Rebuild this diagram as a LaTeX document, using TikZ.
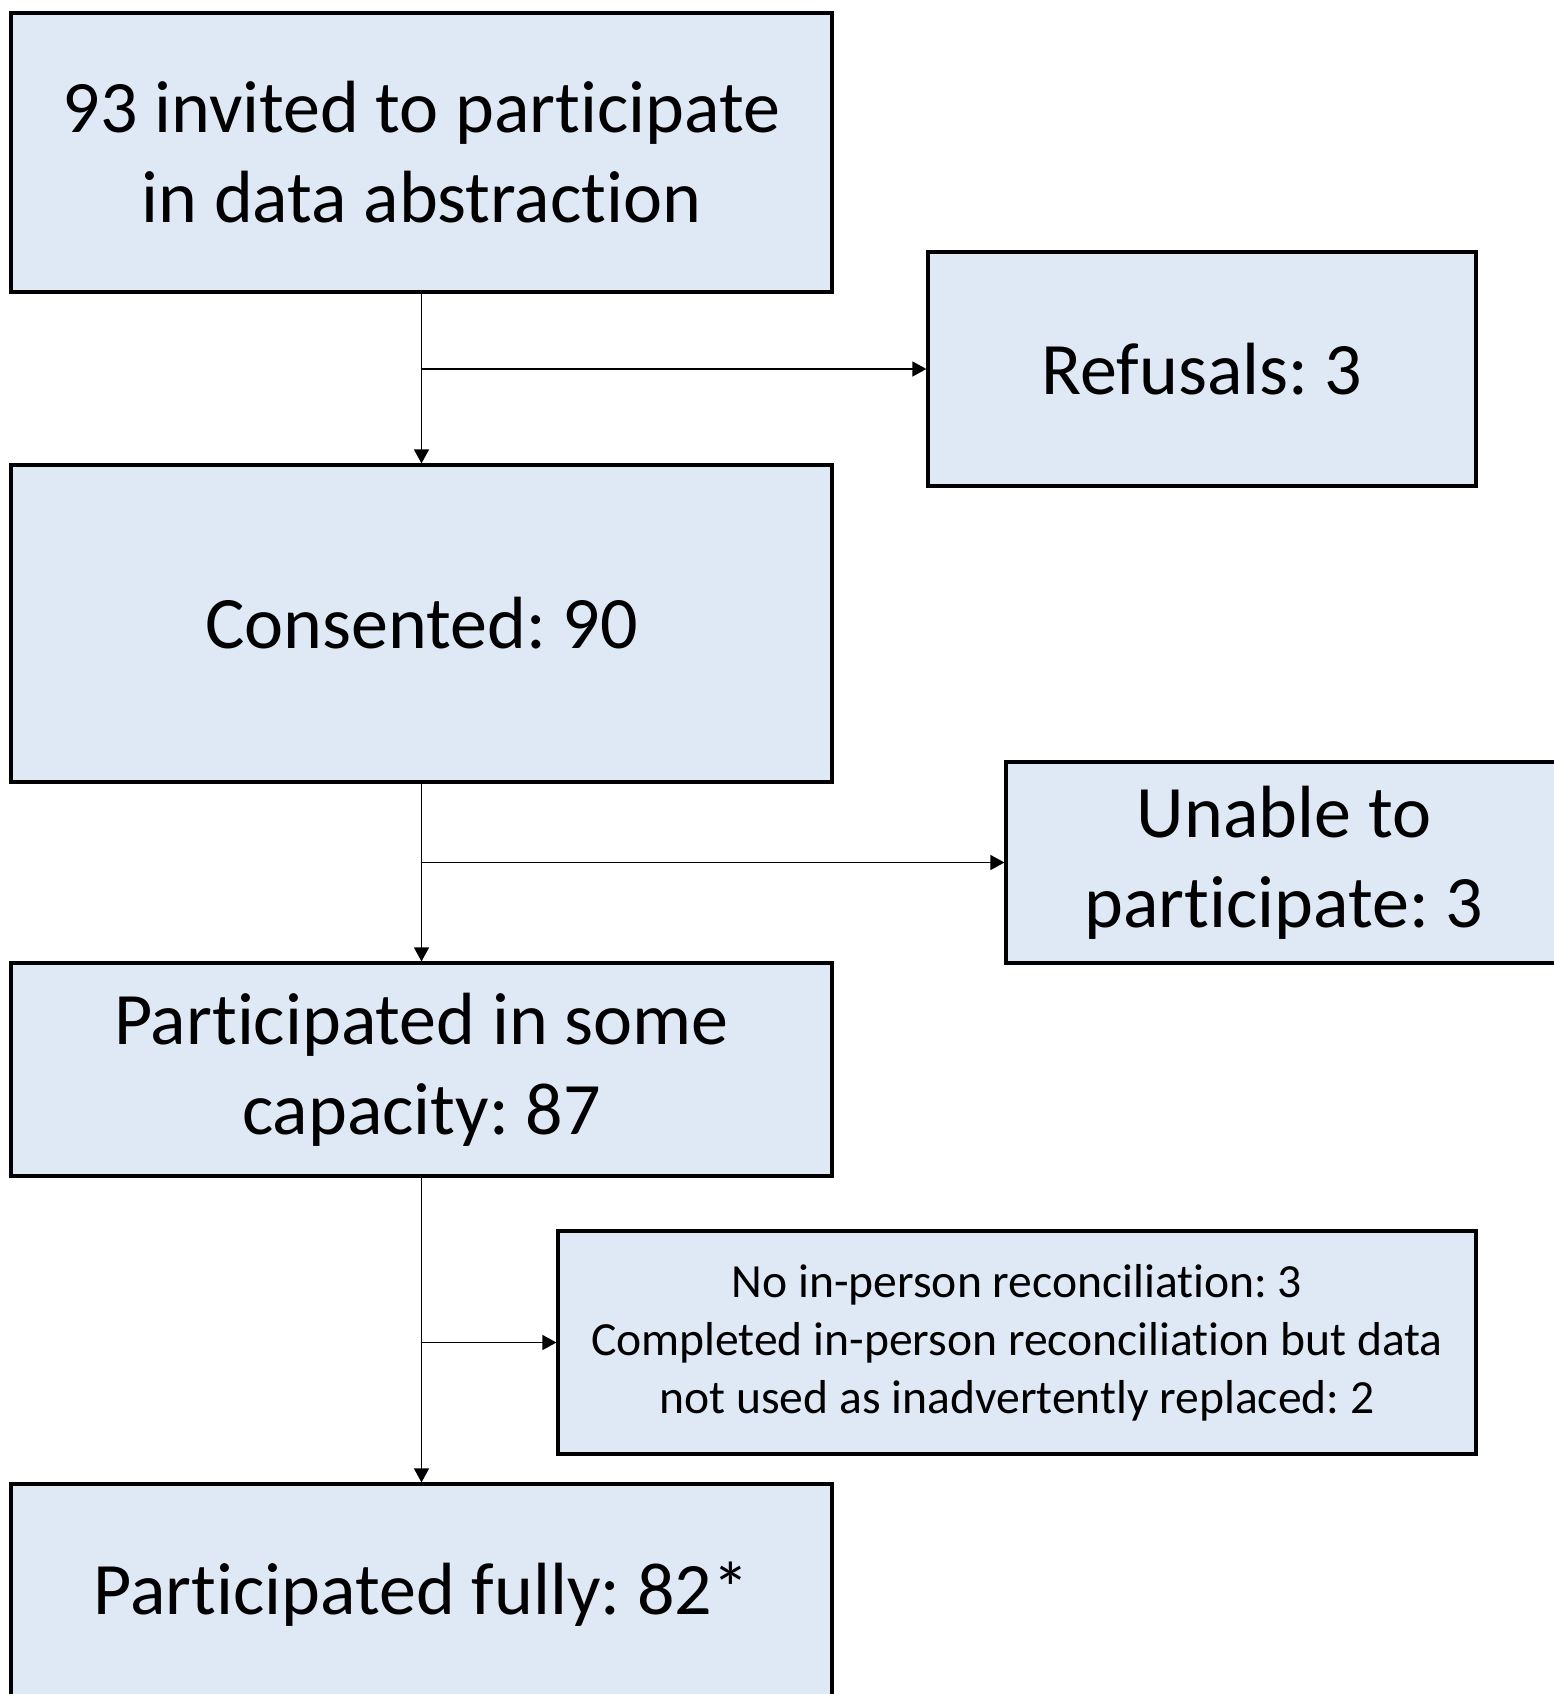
\documentclass[tikz,border=0pt]{standalone}
\usepackage{fontspec}
\setmainfont{Carlito}[Ligatures=NoCommon]
\frenchspacing
\usetikzlibrary{arrows.meta}
\definecolor{boxblue}{HTML}{DEE9F5}
\tikzset{
	box/.style={draw=black, fill=boxblue, line width=1.6pt, align=center, inner sep=0pt},
	bigtext/.style={font=\fontsize{37}{45}\selectfont},
	smalltext/.style={font=\fontsize{23.8}{28.9}\selectfont},
	link/.style={black, line width=0.7pt, -{Triangle[length=7pt,width=7.5pt]}}
}

\begin{document}
\begin{tikzpicture}[x=0.5pt, y=-0.5pt]
		\useasboundingbox (0,0) rectangle (1554,1694);
		\node[box, bigtext, minimum width=410.5pt, minimum height=139.5pt] (invited) at (421.5,152.5){93 invited to participate\\in data abstraction};
		\node[box, bigtext, minimum width=274pt, minimum height=117pt] (refusals) at (1202,369){Refusals: 3};
		\node[box, bigtext, minimum width=410.5pt, minimum height=158.5pt] (consented) at (421.5,623.5){Consented: 90};
		\node[box, bigtext, minimum width=278pt, minimum height=100.5pt] (unable) at (1284,862.5){Unable to\\participate: 3};
		\node[box, bigtext, minimum width=410.5pt, minimum height=106.5pt] (some) at (421.5,1069.5){Participated in some\\capacity: 87};
		\node[box, smalltext, minimum width=459pt, minimum height=111.5pt] (excluded) at (1017,1342.5){No in-person reconciliation: 3\\Completed in-person reconciliation but data\\not used as inadvertently replaced: 2};
		\node[box, bigtext, minimum width=410.5pt, minimum height=110pt] (fully) at (421.5,1594){Participated fully: 82*};
		\coordinate (split1) at (invited.south |- refusals.west);
		\coordinate (split2) at (consented.south |- unable.west);
		\coordinate (split3) at (some.south |- excluded.west);
		\draw[link] (invited.south) -- (consented.north);
		\draw[link] (consented.south) -- (some.north);
		\draw[link] (some.south) -- (fully.north);
		\draw[link] (split1) -- (refusals.west);
		\draw[link] (split2) -- (unable.west);
		\draw[link] (split3) -- (excluded.west);
\end{tikzpicture}
\end{document}
